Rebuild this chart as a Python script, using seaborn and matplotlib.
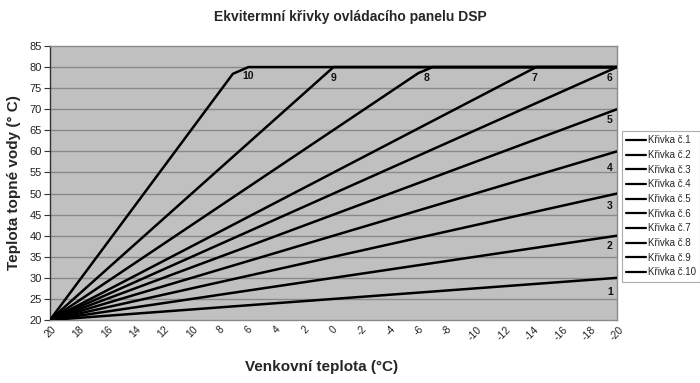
import matplotlib
matplotlib.use("Agg")
import matplotlib.pyplot as plt
import seaborn as sns
import pandas as pd

# Data: break points of each curve (outdoor temp -> water temp)
curve_names = ["Křivka č.1", "Křivka č.2", "Křivka č.3", "Křivka č.4", "Křivka č.5",
               "Křivka č.6", "Křivka č.7", "Křivka č.8", "Křivka č.9", "Křivka č.10"]
c1_x = [20, -20]; c1_y = [20, 30]
c2_x = [20, -20]; c2_y = [20, 40]
c3_x = [20, -20]; c3_y = [20, 50]
c4_x = [20, -20]; c4_y = [20, 60]
c5_x = [20, -20]; c5_y = [20, 70]
c6_x = [20, -20]; c6_y = [20, 80]
c7_x = [20, -14.3, -20]; c7_y = [20, 80, 80]
c8_x = [20, -6.0, -7.0, -20]; c8_y = [20, 78.6, 80, 80]
c9_x = [20, 0, -20]; c9_y = [20, 80, 80]
c10_x = [20, 7.1, 6.0, -20]; c10_y = [20, 78.4, 80, 80]
curve_labels = ["1", "2", "3", "4", "5", "6", "7", "8", "9", "10"]
label_x = [-19.5, -19.5, -19.5, -19.5, -19.5, -19.5, -14.2, -6.6, 0.0, 6.0]
label_y = [26.6, 37.6, 47.0, 56.0, 67.4, 77.5, 77.5, 77.5, 77.5, 78.0]
x_ticks = list(range(20, -21, -2))
y_ticks = list(range(20, 86, 5))

xs = [c1_x, c2_x, c3_x, c4_x, c5_x, c6_x, c7_x, c8_x, c9_x, c10_x]
ys = [c1_y, c2_y, c3_y, c4_y, c5_y, c6_y, c7_y, c8_y, c9_y, c10_y]
rows = []
for name, xx, yy in zip(curve_names, xs, ys):
    for i, (a, b) in enumerate(zip(xx, yy)):
        rows.append({"curve": name, "x": a, "y": b, "order": i})
df = pd.DataFrame(rows)

sns.set_theme(style="white")
plt.rcParams["font.family"] = ["Liberation Sans", "DejaVu Sans"]
plt.rcParams["axes.unicode_minus"] = False

fig = plt.figure(figsize=(7.0, 3.83), dpi=100)
ax = fig.add_axes([50/700, 1 - 320/383, (617-50)/700, (320-46)/383])
ax.set_facecolor("#c0c0c0")

sns.lineplot(data=df, x="x", y="y", hue="curve", hue_order=curve_names,
             palette=["black"]*10, sort=False, estimator=None, linewidth=1.8,
             ax=ax, legend=False, zorder=3)

ax.set_xlim(20, -20)
ax.set_ylim(20, 85)
ax.set_xticks(x_ticks)
ax.set_xticklabels([str(t) for t in x_ticks], rotation=45, fontsize=7.5, color="#222222")
ax.set_yticks(y_ticks)
ax.set_yticklabels([str(t) for t in y_ticks], fontsize=8, color="#222222")
ax.tick_params(axis="y", length=4, width=0.8, color="#333333", left=True, pad=2)
ax.tick_params(axis="x", length=0, pad=3)
for t in ax.get_xticklabels():
    t.set_ha("center")
    t.set_va("top")

for yv in y_ticks[1:-1]:
    ax.axhline(yv, color="#8a8a8a", linewidth=1.0, zorder=1)

for s in ["top", "right", "bottom"]:
    ax.spines[s].set_color("#8a8a8a")
    ax.spines[s].set_linewidth(1.0)
ax.spines["left"].set_color("#333333")
ax.spines["left"].set_linewidth(1.0)

for lab, lx, ly in zip(curve_labels, label_x, label_y):
    ax.text(lx, ly, lab, fontsize=7.5, fontweight="bold", ha="center", va="center",
            color="#111111", zorder=4)

ax.set_xlabel("Venkovní teplota (°C)", fontsize=11, fontweight="bold", labelpad=13)
ax.xaxis.label.set_x((322 - 50) / 567)
ax.set_ylabel("Teplota topné vody (° C)", fontsize=11, fontweight="bold", labelpad=6)
fig.text(0.5, 1 - 17/383, "Ekvitermní křivky ovládacího panelu DSP", ha="center",
         va="center", fontsize=10, fontweight="bold")

handles = [plt.Line2D([0], [0], color="black", linewidth=1.6) for _ in curve_names]
leg = fig.legend(handles, curve_names, loc="upper left",
                 bbox_to_anchor=(622/700, 1 - 131/383), fontsize=7,
                 frameon=True, fancybox=False, handlelength=2.0, handletextpad=0.2,
                 labelspacing=0.48, borderpad=0.45, borderaxespad=0)
leg.get_frame().set_edgecolor("#999999")
leg.get_frame().set_linewidth(0.8)

fig.savefig("out.png", dpi=100)
